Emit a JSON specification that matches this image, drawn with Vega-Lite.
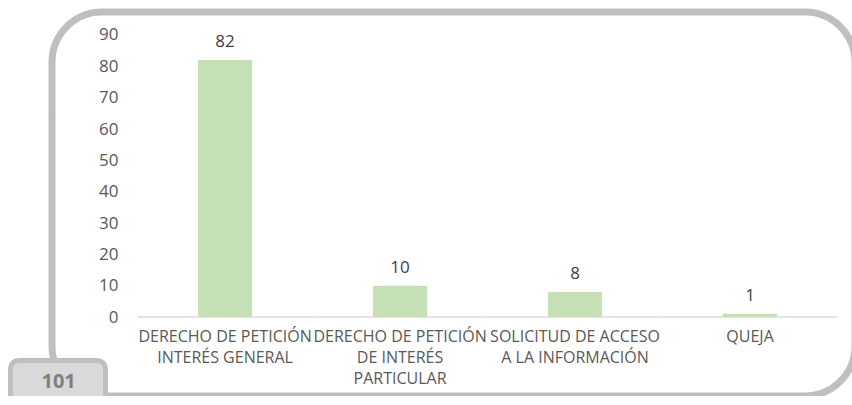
{
  "$schema": "https://vega.github.io/schema/vega-lite/v6.json",
  "width": 803,
  "height": 384,
  "autosize": {"type": "none"},
  "padding": {"left": 52, "top": 12, "right": 0, "bottom": 0},
  "background": "white",
  "config": {
    "view": {"stroke": "#bfbfbf", "strokeWidth": 7, "cornerRadius": 50, "fill": "white"},
    "font": "Open Sans",
    "legend": {"strokeWidth": 5}
  },
  "data": {
    "values": [
      {"categoria": "DERECHO DE PETICIÓN|INTERÉS GENERAL", "cantidad": 82},
      {"categoria": "DERECHO DE PETICIÓN|DE INTERÉS|PARTICULAR", "cantidad": 10},
      {"categoria": "SOLICITUD DE ACCESO|A LA INFORMACIÓN", "cantidad": 8},
      {"categoria": "QUEJA", "cantidad": 1}
    ]
  },
  "layer": [
    {
      "encoding": {
        "x": {
          "field": "categoria",
          "type": "nominal",
          "sort": null,
          "scale": {"paddingInner": 0.6914, "paddingOuter": 0.64, "align": 0.652},
          "axis": {
            "title": null,
            "labelAngle": 0,
            "labelExpr": "split(datum.label, '|')",
            "labelFont": "Open Sans",
            "labelFontSize": 16,
            "labelColor": "#595959",
            "labelLineHeight": 21,
            "labelBaseline": "top",
            "ticks": false,
            "domain": false,
            "labelPadding": 0,
            "offset": -68,
            "labelOverlap": false,
            "labelLimit": 0
          }
        },
        "y": {
          "field": "cantidad",
          "type": "quantitative",
          "scale": {"domain": [-25.21, 97.34], "nice": false, "zero": false},
          "axis": {
            "title": null,
            "values": [0, 10, 20, 30, 40, 50, 60, 70, 80, 90],
            "ticks": false,
            "domain": false,
            "grid": false,
            "labelFont": "Open Sans",
            "labelFontSize": 17,
            "labelColor": "#595959",
            "labelPadding": 0,
            "offset": -66
          }
        }
      },
      "layer": [
        {
          "mark": {"type": "tick", "color": "#d9d9d9", "size": 175, "thickness": 2, "orient": "horizontal"},
          "encoding": {"y": {"datum": 0}}
        },
        {
          "mark": {"type": "bar", "color": "#c5e0b4"},
          "encoding": {"y2": {"datum": 0}}
        },
        {
          "mark": {"type": "text", "font": "Open Sans", "fontSize": 17, "color": "#404040", "baseline": "middle", "dy": -18},
          "encoding": {"text": {"field": "cantidad", "type": "quantitative"}}
        }
      ]
    },
    {
      "transform": [{"aggregate": [{"op": "sum", "field": "cantidad", "as": "total"}]}],
      "mark": {"type": "point", "opacity": 0, "size": 0},
      "encoding": {
        "color": {
          "field": "total",
          "type": "nominal",
          "scale": {"range": ["#7f7f7f"]},
          "legend": {
            "title": ".",
            "titleOrient": "right",
            "titleOpacity": 0,
            "titleFontSize": 1,
            "titlePadding": 18,
            "orient": "none",
            "legendX": -41.5,
            "legendY": 348.5,
            "padding": 11,
            "fillColor": "#d9d9d9",
            "strokeColor": "#bfbfbf",
            "cornerRadius": 8,
            "symbolSize": 400,
            "symbolOpacity": 0,
            "symbolFillColor": "transparent",
            "symbolStrokeColor": "transparent",
            "symbolStrokeWidth": 0,
            "symbolType": "square",
            "labelOffset": 0,
            "labelAlign": "left",
            "labelFont": "Open Sans",
            "labelFontSize": 20,
            "labelFontWeight": "bold",
            "labelColor": "#7f7f7f"
          }
        }
      }
    }
  ]
}
